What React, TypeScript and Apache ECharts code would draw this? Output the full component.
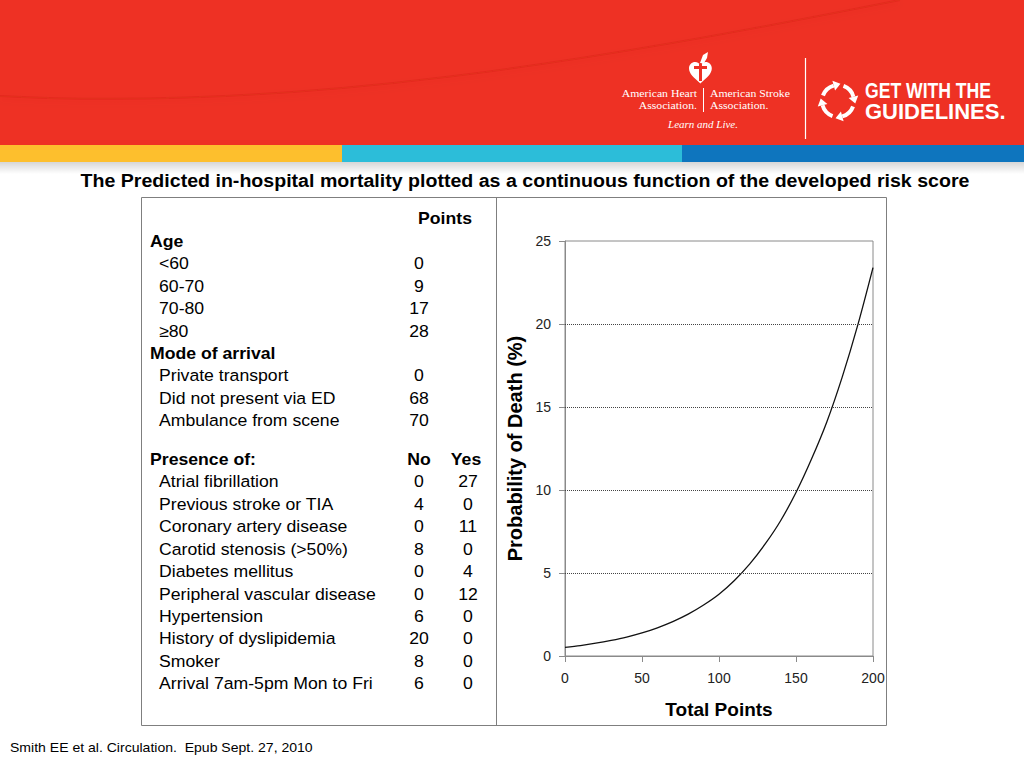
import React, { useEffect, useRef } from "react";
import * as echarts from "echarts";

// ---- Data ----
const totalPoints = [0, 10, 20, 30, 40, 50, 60, 70, 80, 90, 100, 110, 120, 130, 140, 150, 160, 170, 180, 190, 200];
const probabilityOfDeath = [0.52, 0.63, 0.77, 0.94, 1.14, 1.39, 1.7, 2.07, 2.52, 3.07, 3.72, 4.55, 5.55, 6.75, 8.15, 9.85, 11.85, 14.1, 16.8, 19.9, 23.4];
const yGridLevels = [5, 10, 15, 20];

const ageGroups = ["<60", "60-70", "70-80", "\u226580"];
const agePoints = ["0", "9", "17", "28"];
const arrivalModes = ["Private transport", "Did not present via ED", "Ambulance from scene"];
const arrivalPoints = ["0", "68", "70"];
const conditions = [
  "Atrial fibrillation",
  "Previous stroke or TIA",
  "Coronary artery disease",
  "Carotid stenosis (>50%)",
  "Diabetes mellitus",
  "Peripheral vascular disease",
  "Hypertension",
  "History of dyslipidemia",
  "Smoker",
  "Arrival 7am-5pm Mon to Fri",
];
const conditionNo = ["0", "4", "0", "8", "0", "0", "6", "20", "8", "6"];
const conditionYes = ["27", "0", "11", "0", "4", "12", "0", "0", "0", "0"];

const titleText = "The Predicted in-hospital mortality plotted as a continuous function of the developed risk score";
const footerText = "Smith EE et al. Circulation.  Epub Sept. 27, 2010";

const FONT = '"Liberation Sans", Arial, sans-serif';
const SERIF = '"Liberation Serif", "Times New Roman", serif';

echarts.graphic.registerShape(
  "ahaHeart",
  echarts.graphic.extendPath(
    "M12 22 C 5 16 0 12 0 6.5 C 0 2.5 3 0 6.5 0 C 9 0 11 1.5 12 3.5 C 13 1.5 15 0 17.5 0 C 21 0 24 2.5 24 6.5 C 24 12 19 16 12 22 Z",
    {}
  )
);

function buildGraphics() {
  const g: any[] = [];
  // Header band
  g.push({ type: "rect", shape: { x: 0, y: 0, width: 1024, height: 146 }, style: { fill: "#EE3124" } });
  g.push({
    type: "bezierCurve",
    shape: { x1: 0, y1: 96, cpx1: 300, cpy1: 112, cpx2: 600, cpy2: 60, x2: 900, y2: 0 },
    style: { stroke: "rgba(190,30,20,0.18)", lineWidth: 2, fill: "none", shadowBlur: 6, shadowColor: "rgba(140,10,0,0.35)", shadowOffsetY: 3 },
  });
  // Stripes
  g.push({ type: "rect", shape: { x: 0, y: 145, width: 342, height: 17 }, style: { fill: "#FDBF2D" } });
  g.push({ type: "rect", shape: { x: 342, y: 145, width: 340, height: 17 }, style: { fill: "#2CBDD9" } });
  g.push({ type: "rect", shape: { x: 682, y: 145, width: 342, height: 17 }, style: { fill: "#0E75BE" } });
  g.push({
    type: "rect",
    shape: { x: 0, y: 162, width: 1024, height: 12 },
    style: {
      fill: new echarts.graphic.LinearGradient(0, 0, 0, 1, [
        { offset: 0, color: "rgba(0,0,0,0.16)" },
        { offset: 1, color: "rgba(0,0,0,0)" },
      ]),
    },
  });

  // AHA logo
  g.push({ type: "ahaHeart", x: 689, y: 62, scaleX: 0.95, scaleY: 0.98, style: { fill: "#ffffff" } });
  g.push({ type: "rect", shape: { x: 699, y: 64, width: 3, height: 17 }, style: { fill: "#EE3124" } });
  g.push({ type: "rect", shape: { x: 694, y: 66, width: 13, height: 3 }, style: { fill: "#EE3124" } });
  g.push({ type: "polygon", shape: { points: [[700, 63], [703, 55], [708, 52], [707, 58], [704, 63]] }, style: { fill: "#ffffff" } });
  const ahaStyle = { fill: "#ffffff", fontFamily: SERIF, fontSize: 10.5, verticalAlign: "middle" };
  g.push({ type: "text", x: 697, y: 93, scaleX: 1.12, style: { ...ahaStyle, text: "American Heart", align: "right" } });
  g.push({ type: "text", x: 697, y: 105.5, scaleX: 1.12, style: { ...ahaStyle, text: "Association.", align: "right" } });
  g.push({ type: "text", x: 710, y: 93, scaleX: 1.12, style: { ...ahaStyle, text: "American Stroke", align: "left" } });
  g.push({ type: "text", x: 710, y: 105.5, scaleX: 1.12, style: { ...ahaStyle, text: "Association.", align: "left" } });
  g.push({ type: "line", shape: { x1: 703.5, y1: 88, x2: 703.5, y2: 112 }, style: { stroke: "#ffffff", lineWidth: 1 } });
  g.push({ type: "text", x: 703, y: 124, style: { ...ahaStyle, fontSize: 11, fontStyle: "italic", text: "Learn and Live.", align: "center" } });
  g.push({ type: "line", shape: { x1: 805.5, y1: 58, x2: 805.5, y2: 139 }, style: { stroke: "#ffffff", lineWidth: 1.2 } });

  // Circular arrows
  const cx = 838, cy = 101, r = 16;
  for (let k = 0; k < 4; k++) {
    const a0 = -Math.PI / 2 + (k * Math.PI) / 2 + 0.35;
    const a1 = a0 + 0.95;
    g.push({ type: "arc", shape: { cx, cy, r, startAngle: a0, endAngle: a1, clockwise: true }, style: { stroke: "#ffffff", lineWidth: 4, fill: "none" } });
    const tx = cx + r * Math.cos(a1), ty = cy + r * Math.sin(a1);
    const dx = -Math.sin(a1), dy = Math.cos(a1);
    const nx = Math.cos(a1), ny = Math.sin(a1);
    g.push({
      type: "polygon",
      shape: { points: [[tx + dx * 7, ty + dy * 7], [tx + nx * 5, ty + ny * 5], [tx - nx * 5, ty - ny * 5]] },
      style: { fill: "#ffffff" },
    });
  }
  g.push({ type: "text", x: 865, y: 90, scaleX: 0.8, style: { text: "GET WITH THE", fill: "#fff", fontFamily: FONT, fontWeight: "bold", fontSize: 22, verticalAlign: "middle", align: "left" } });
  g.push({ type: "text", x: 865, y: 111, scaleX: 1.0, style: { text: "GUIDELINES.", fill: "#fff", fontFamily: FONT, fontWeight: "bold", fontSize: 22, verticalAlign: "middle", align: "left" } });

  // Title
  g.push({ type: "text", x: 525, y: 181, scaleX: 1.12, style: { text: titleText, fill: "#000", fontFamily: FONT, fontWeight: "bold", fontSize: 17.5, align: "center", verticalAlign: "middle" } });

  // Box
  g.push({ type: "rect", shape: { x: 141.5, y: 197.5, width: 745, height: 528 }, style: { fill: "none", stroke: "#7f7f7f", lineWidth: 1 } });
  g.push({ type: "line", shape: { x1: 496.5, y1: 197.5, x2: 496.5, y2: 725.5 }, style: { stroke: "#7f7f7f", lineWidth: 1 } });

  // Table
  const SX = 1.07;
  const step = 22.45;
  const txt = (text: string, x: number, y: number, bold: boolean, align: string) => ({
    type: "text",
    x,
    y,
    scaleX: SX,
    style: { text, fill: "#000", fontFamily: FONT, fontWeight: bold ? "bold" : "normal", fontSize: 16.5, align, verticalAlign: "middle" },
  });
  const rowY = (i: number) => 219 + i * step;
  g.push(txt("Points", 445, rowY(0), true, "center"));
  g.push(txt("Age", 150, rowY(1), true, "left"));
  ageGroups.forEach((a, i) => {
    g.push(txt(a, 159, rowY(2 + i), false, "left"));
    g.push(txt(agePoints[i], 419, rowY(2 + i), false, "center"));
  });
  g.push(txt("Mode of arrival", 150, rowY(6), true, "left"));
  arrivalModes.forEach((a, i) => {
    g.push(txt(a, 159, rowY(7 + i), false, "left"));
    g.push(txt(arrivalPoints[i], 419, rowY(7 + i), false, "center"));
  });
  const y2 = (j: number) => 482 + j * step;
  g.push(txt("Presence of:", 150, 460, true, "left"));
  g.push(txt("No", 419, 460, true, "center"));
  g.push(txt("Yes", 466, 460, true, "center"));
  conditions.forEach((c, j) => {
    g.push(txt(c, 159, y2(j), false, "left"));
    g.push(txt(conditionNo[j], 419, y2(j), false, "center"));
    g.push(txt(conditionYes[j], 468, y2(j), false, "center"));
  });

  // Footer
  g.push({ type: "text", x: 10, y: 748, scaleX: 1.04, style: { text: footerText, fill: "#000", fontFamily: FONT, fontSize: 13.5, align: "left", verticalAlign: "middle" } });
  return g;
}

export default function App() {
  const ref = useRef<HTMLDivElement>(null);
  useEffect(() => {
    if (!ref.current) return;
    const chart = echarts.init(ref.current, undefined, { renderer: "svg" });
    const axisColor = "#8a8a8a";
    chart.setOption({
      animation: false,
      backgroundColor: "#ffffff",
      grid: { left: 565, top: 241, width: 308, height: 415, show: true, borderColor: axisColor, borderWidth: 1, backgroundColor: "transparent" },
      xAxis: {
        type: "value",
        min: 0,
        max: 200,
        interval: 50,
        name: "Total Points",
        nameLocation: "middle",
        nameGap: 44,
        nameTextStyle: { fontSize: 19, fontWeight: "bold", color: "#000", fontFamily: FONT },
        axisLine: { show: true, lineStyle: { color: axisColor } },
        axisTick: { show: true, length: 6, lineStyle: { color: axisColor } },
        axisLabel: { fontSize: 14, color: "#222", margin: 15, fontFamily: FONT },
        splitLine: { show: false },
      },
      yAxis: {
        type: "value",
        min: 0,
        max: 25,
        interval: 5,
        name: "Probability of Death (%)",
        nameLocation: "middle",
        nameGap: 40,
        nameRotate: 90,
        nameTextStyle: { fontSize: 20, fontWeight: "bold", color: "#000", fontFamily: FONT },
        axisLine: { show: true, lineStyle: { color: axisColor } },
        axisTick: { show: true, length: 6, lineStyle: { color: axisColor } },
        axisLabel: { fontSize: 14, color: "#222", margin: 14, fontFamily: FONT },
        splitLine: { show: false },
      },
      series: [
        {
          type: "line",
          data: totalPoints.map((x, i) => [x, probabilityOfDeath[i]]),
          smooth: 0.3,
          symbol: "none",
          lineStyle: { color: "#111", width: 1.3 },
          markLine: {
            silent: true,
            symbol: ["none", "none"],
            label: { show: false },
            lineStyle: { type: "dotted", color: "#444", width: 1 },
            data: yGridLevels.map((v) => ({ yAxis: v })),
          },
        },
      ],
      graphic: buildGraphics(),
    });
    return () => chart.dispose();
  }, []);
  return <div ref={ref} style={{ position: "absolute", left: 0, top: 0, width: 1024, height: 768 }} />;
}
